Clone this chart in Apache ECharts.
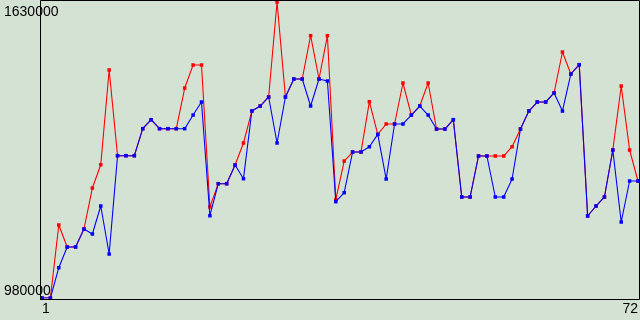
<!DOCTYPE html>
<html>
<head>
<meta charset="utf-8">
<script src="https://cdn.jsdelivr.net/npm/echarts@6/dist/echarts.min.js"></script>
<style>html,body{margin:0;padding:0;background:#d4e2d4;}#c{width:640px;height:320px;}</style>
</head>
<body>
<div id="c"></div>
<script>
const categories = [1,2,3,4,5,6,7,8,9,10,11,12,13,14,15,16,17,18,19,20,21,22,23,24,25,26,27,28,29,30,31,32,33,34,35,36,37,38,39,40,41,42,43,44,45,46,47,48,49,50,51,52,53,54,55,56,57,58,59,60,61,62,63,64,65,66,67,68,69,70,71,72];
const blueValues = [980000,980000,1046500,1092000,1092000,1131500,1120500,1182000,1076600,1292500,1292500,1292500,1351800,1371500,1351800,1351800,1351800,1351800,1381800,1410400,1160700,1231000,1231000,1272000,1242000,1390600,1401600,1421400,1320400,1421400,1460900,1460900,1401600,1460900,1456500,1191500,1211200,1300600,1300600,1312200,1339200,1241300,1362100,1362100,1381800,1401600,1381800,1351100,1351100,1371500,1201800,1201800,1291800,1291800,1201800,1201800,1241300,1351100,1390600,1410400,1410400,1430200,1390600,1471900,1492300,1160100,1182000,1201800,1305000,1146900,1236900,1236900];
const redValues = [980000,980000,1140300,1092000,1092000,1131500,1221500,1272700,1480700,1292500,1292500,1292500,1351800,1371500,1351800,1351800,1351800,1441100,1491600,1491600,1180000,1231000,1231000,1272000,1320400,1390600,1401600,1421400,1630000,1421400,1460900,1460900,1556000,1460900,1556000,1196000,1280800,1300600,1300600,1411100,1339200,1362100,1362100,1452100,1381800,1401600,1452100,1351100,1351100,1371500,1201800,1201800,1291800,1291800,1291800,1291800,1312200,1351100,1390600,1410400,1410400,1430200,1520200,1471900,1492300,1160100,1182000,1201800,1305000,1445500,1305000,1236900];
const yMin = 980000, yMax = 1630000;
const yTickLabels = ['980000', '1630000'];

const chart = echarts.init(document.getElementById('c'), null, {renderer: 'canvas'});
const font = {fontFamily: 'Liberation Sans', fontSize: 14, color: '#000'};
chart.setOption({
  backgroundColor: '#d4e2d4',
  animation: false,
  grid: {left: 42, right: 2, top: 2, bottom: 22, outerBoundsMode: 'none', containLabel: false},
  xAxis: {
    type: 'category', data: categories, boundaryGap: false,
    axisLine: {show: false}, axisTick: {show: false}, splitLine: {show: false},
    axisLabel: Object.assign({interval: 70, margin: 4, showMinLabel: true, showMaxLabel: true,
      alignMinLabel: 'left', alignMaxLabel: 'right'}, font)
  },
  yAxis: {
    type: 'value', min: yMin, max: yMax,
    axisLine: {show: false}, axisTick: {show: false}, splitLine: {show: false},
    axisLabel: Object.assign({align: 'left', margin: 38, showMinLabel: true, showMaxLabel: true,
      verticalAlignMinLabel: 'bottom', verticalAlignMaxLabel: 'top',
      formatter: v => (v === yMin ? '{b|' + yTickLabels[0] + '}' : (v === yMax ? '{t|' + yTickLabels[1] + '}' : '')),
      rich: {
        t: Object.assign({padding: [3, 0, 0, 0]}, font),
        b: Object.assign({padding: [0, 0, 0, 0]}, font)
      }}, font)
  },
  graphic: [{
    type: 'rect', z: 100, silent: true,
    shape: {x: 40.5, y: 0.5, width: 599, height: 299},
    style: {fill: 'none', stroke: '#000', lineWidth: 1}
  }],
  series: [
    {type: 'line', data: redValues, symbol: 'rect', symbolSize: 3.5, showSymbol: true,
     lineStyle: {color: '#ff0000', width: 1.1}, itemStyle: {color: '#ff0000'}, z: 2},
    {type: 'line', data: blueValues, symbol: 'rect', symbolSize: 3.5, showSymbol: true,
     lineStyle: {color: '#0000ff', width: 1.1}, itemStyle: {color: '#0000ff'}, z: 3}
  ]
});
</script>
</body>
</html>
